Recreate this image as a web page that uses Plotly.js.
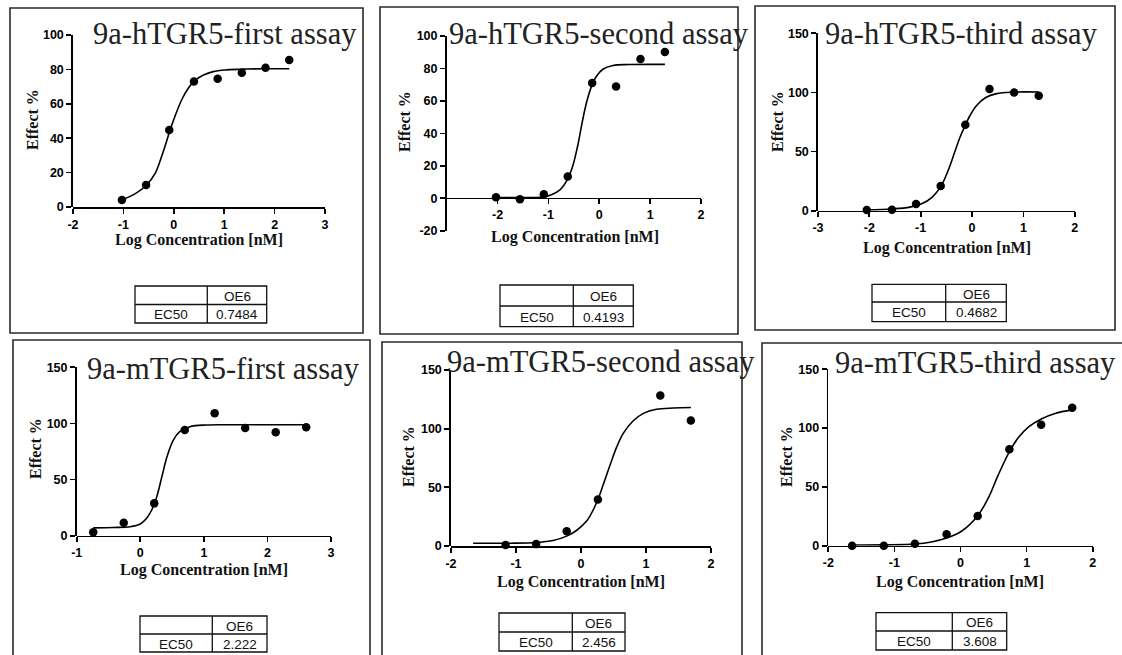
<!DOCTYPE html>
<html><head><meta charset="utf-8">
<script src="https://cdn.plot.ly/plotly-3.0.1.min.js"></script>
<style>html,body{margin:0;padding:0;background:#fff}#chart{width:1122px;height:655px}</style>
</head><body><div id="chart"></div>
<script>
// ---------------- DATA ----------------
const panelTitles = ['9a-hTGR5-first assay','9a-hTGR5-second assay','9a-hTGR5-third assay',
                     '9a-mTGR5-first assay','9a-mTGR5-second assay','9a-mTGR5-third assay'];
const xAxisTitle = 'Log Concentration [nM]';
const yAxisTitle = 'Effect %';
const tableHeader = 'OE6';
const tableRowLabel = 'EC50';
const ec50Values = ['0.7484','0.4193','0.4682','2.222','2.456','3.608'];

const p1LogConc = [-1.03,-0.55,-0.09,0.40,0.87,1.35,1.82,2.29];
const p1Effect  = [4.1,12.8,44.8,72.9,74.6,78.1,81.0,85.5];
const p1CurveX  = [-1.03,-0.77,-0.54,-0.37,-0.24,-0.14,-0.075,0.02,0.16,0.29,0.42,0.59,0.78,1.05,1.45,1.84,2.29];
const p1CurveY  = [4.2,7.6,12.8,19.5,29.5,38.5,44.6,52.5,62.5,69.2,73.6,76.7,78.7,79.7,80.2,80.4,80.4];

const p2LogConc = [-2.03,-1.56,-1.09,-0.62,-0.14,0.33,0.81,1.29];
const p2Effect  = [0.6,-0.6,2.4,13.4,71.1,68.9,85.8,90.1];
const p2CurveX  = [-2.03,-1.56,-1.11,-0.94,-0.78,-0.62,-0.52,-0.42,-0.35,-0.29,-0.22,-0.14,-0.06,0.07,0.27,0.59,1.29];
const p2CurveY  = [0.4,0.4,0.8,2.2,5.0,12.0,20.0,33.0,44.5,53.8,62.5,70.0,75.0,79.5,81.8,82.4,82.5];

const p3LogConc = [-2.05,-1.56,-1.09,-0.61,-0.13,0.34,0.82,1.30];
const p3Effect  = [0.5,0.9,5.7,20.9,72.6,102.9,100.0,97.2];
const p3CurveX  = [-2.05,-1.56,-1.21,-0.98,-0.78,-0.61,-0.46,-0.33,-0.23,-0.13,-0.04,0.09,0.26,0.48,0.81,1.30];
const p3CurveY  = [0.8,1.5,3.0,5.8,11.3,20.3,34.5,50.5,62.5,72.3,80.5,89.0,95.5,99.0,100.3,100.4];

const p4LogConc = [-0.74,-0.26,0.22,0.70,1.17,1.65,2.13,2.61];
const p4Effect  = [3.0,11.6,28.8,94.1,109.0,95.9,92.1,96.5];
const p4CurveX  = [-0.74,-0.42,-0.16,0.0,0.10,0.18,0.26,0.34,0.42,0.52,0.62,0.78,1.04,1.41,2.62];
const p4CurveY  = [7.0,7.3,8.0,10.4,15.5,22.9,34.8,52.6,70.4,85.2,92.6,97.1,98.6,98.8,98.8];

const p5LogConc = [-1.16,-0.69,-0.22,0.26,1.22,1.69];
const p5Effect  = [0.8,1.6,12.6,39.6,128.3,107.0];
const p5CurveX  = [-1.66,-1.09,-0.68,-0.43,-0.22,-0.07,0.09,0.19,0.26,0.34,0.45,0.55,0.65,0.80,0.96,1.16,1.42,1.69];
const p5CurveY  = [2.4,2.4,3.0,4.7,8.4,13.2,21.5,31.0,39.6,52.0,69.5,84.5,96.0,106.5,113.0,116.5,117.6,118.0];

const p6LogConc = [-1.64,-1.16,-0.69,-0.21,0.26,0.74,1.22,1.69];
const p6Effect  = [0.0,0.0,1.7,9.7,25.3,82.0,102.9,117.3];
const p6CurveX  = [-1.64,-1.14,-0.69,-0.44,-0.21,0.02,0.26,0.42,0.57,0.74,0.87,1.03,1.23,1.43,1.69];
const p6CurveY  = [0.6,0.7,1.4,3.2,6.5,12.5,25.5,40.5,60.0,80.0,91.5,101.0,108.0,112.5,115.5];

const xTicks1 = [-2,-1,0,1,2,3];   const xTickText1 = ['-2','-1','0','1','2','3'];
const xTicks2 = [-2,-1,0,1,2];     const xTickText2 = ['-2','-1','0','1','2'];
const xTicks3 = [-3,-2,-1,0,1,2];  const xTickText3 = ['-3','-2','-1','0','1','2'];
const xTicks4 = [-1,0,1,2,3];      const xTickText4 = ['-1','0','1','2','3'];
const xTicks5 = [-2,-1,0,1,2];     const xTickText5 = ['-2','-1','0','1','2'];
const yTicksA = [0,20,40,60,80,100];
const yTicksB = [-20,0,20,40,60,80,100]; const yTickTextB = ['-20','0','20','40','60','80','100'];
const yTicksC = [0,50,100,150];

// ---------------- LAYOUT GEOMETRY (pixels) ----------------
const W = 1122, H = 655;
const PX = v => v / W, PY = v => 1 - v / H;
const panels = [
  {lx:p1LogConc, ly:p1Effect, cx:p1CurveX, cy:p1CurveY, box:[10,8,363,333], xd:[73,325], yd:[207,35], xr:[-2,3], yr:[0,100],
   xt:xTicks1, xtt:xTickText1, yt:yTicksA, ytt:yTicksA.map(String), x0:207, ttl:[93,43], xtl:[199,240], ytl:[33,120], tb:[135,207.3,266.7,286,304.5,323]},
  {lx:p2LogConc, ly:p2Effect, cx:p2CurveX, cy:p2CurveY, box:[380,7,738,334], xd:[446.7,701], yd:[230.7,36], xr:[-3,2], yr:[-20,100],
   xt:xTicks2, xtt:xTickText2, yt:yTicksB, ytt:yTickTextB, x0:197.7, ttl:[449,43], xtl:[575,237], ytl:[404,122], tb:[500,573.3,633.3,285,306,326.7]},
  {lx:p3LogConc, ly:p3Effect, cx:p3CurveX, cy:p3CurveY, box:[755,6,1115,330], xd:[818,1074.7], yd:[210.7,33.3], xr:[-3,2], yr:[0,150],
   xt:xTicks3, xtt:xTickText3, yt:yTicksC, ytt:yTicksC.map(String), x0:210.7, ttl:[825,43], xtl:[947,248], ytl:[777,122], tb:[872,945.7,1006.3,284.3,302,321.7]},
  {lx:p4LogConc, ly:p4Effect, cx:p4CurveX, cy:p4CurveY, box:[13,340,370,670], xd:[76.7,331], yd:[535.7,367.3], xr:[-1,3], yr:[0,150],
   xt:xTicks4, xtt:xTickText4, yt:yTicksC, ytt:yTicksC.map(String), x0:535.7, ttl:[87,378], xtl:[204,570], ytl:[35,449], tb:[140,212.3,267,616,634,652]},
  {lx:p5LogConc, ly:p5Effect, cx:p5CurveX, cy:p5CurveY, box:[382,342,742,670], xd:[451,711], yd:[546,370], xr:[-2,2], yr:[0,150],
   xt:xTicks5, xtt:xTickText5, yt:yTicksC, ytt:yTicksC.map(String), x0:546, ttl:[447,371], xtl:[581,582], ytl:[408,457], tb:[499,572.3,625,613,632,651]},
  {lx:p6LogConc, ly:p6Effect, cx:p6CurveX, cy:p6CurveY, box:[762,343,1125,670], xd:[828.3,1092.7], yd:[545.7,369.3], xr:[-2,2], yr:[0,150],
   xt:xTicks5, xtt:xTickText5, yt:yTicksC, ytt:yTicksC.map(String), x0:545.7, ttl:[835,372], xtl:[960,582], ytl:[786,457], tb:[876,952.3,1006.7,612.7,631,650]}
];

const traces = [], shapes = [], annotations = [];
const layout = {width:W, height:H, autosize:false, margin:{l:0,r:0,t:0,b:0,pad:0},
  paper_bgcolor:'#fff', plot_bgcolor:'rgba(0,0,0,0)', showlegend:false};
const tickFont = {family:'Liberation Sans, Arial, sans-serif', size:12.5, weight:'bold', color:'#000'};
const serif = 'Liberation Serif, Times New Roman, serif';
const TITLE_SIZE = 30.5;

panels.forEach((p, i) => {
  const n = i + 1, xs = n === 1 ? '' : String(n);
  const xa = 'x' + xs, ya = 'y' + xs;
  layout['xaxis' + xs] = {domain:[PX(p.xd[0]), PX(p.xd[1])], range:p.xr, anchor:'free', position:PY(p.x0),
    showline:true, linecolor:'#000', linewidth:1.7, ticks:'outside', ticklen:5, tickwidth:1.7, tickcolor:'#000',
    tickvals:p.xt, ticktext:p.xtt, tickfont:tickFont, showgrid:false, zeroline:false, fixedrange:true};
  layout['yaxis' + xs] = {domain:[PY(p.yd[0]), PY(p.yd[1])], range:p.yr, anchor:xa,
    showline:true, linecolor:'#000', linewidth:1.7, ticks:'outside', ticklen:5, tickwidth:1.7, tickcolor:'#000',
    tickvals:p.yt, ticktext:p.ytt, tickfont:tickFont, showgrid:false, zeroline:false, fixedrange:true};
  traces.push({x:p.cx, y:p.cy, xaxis:xa, yaxis:ya, type:'scatter', mode:'lines',
    line:{color:'#000', width:1.6, shape:'spline', smoothing:1}, cliponaxis:false, hoverinfo:'skip'});
  traces.push({x:p.lx, y:p.ly, xaxis:xa, yaxis:ya, type:'scatter', mode:'markers',
    marker:{color:'#000', size:8.5}, cliponaxis:false});

  // panel border
  shapes.push({type:'rect', xref:'paper', yref:'paper', x0:PX(p.box[0]), x1:PX(p.box[2]), y0:PY(p.box[3]), y1:PY(p.box[1]),
    line:{color:'#2a2a2a', width:1.6}, fillcolor:'rgba(0,0,0,0)'});
  // table
  const t = p.tb;
  shapes.push({type:'rect', xref:'paper', yref:'paper', x0:PX(t[0]), x1:PX(t[2]), y0:PY(t[5]), y1:PY(t[3]), line:{color:'#111', width:1.3}});
  shapes.push({type:'line', xref:'paper', yref:'paper', x0:PX(t[1]), x1:PX(t[1]), y0:PY(t[5]), y1:PY(t[3]), line:{color:'#111', width:1.3}});
  shapes.push({type:'line', xref:'paper', yref:'paper', x0:PX(t[0]), x1:PX(t[2]), y0:PY(t[4]), y1:PY(t[4]), line:{color:'#111', width:1.3}});
  const tf = {family:'Liberation Sans, Arial, sans-serif', size:13.5, color:'#111'};
  annotations.push({xref:'paper', yref:'paper', x:PX((t[1]+t[2])/2), y:PY((t[3]+t[4])/2 + 1), text:tableHeader, showarrow:false, font:tf, xanchor:'center', yanchor:'middle'});
  annotations.push({xref:'paper', yref:'paper', x:PX((t[0]+t[1])/2), y:PY((t[4]+t[5])/2 + 1), text:tableRowLabel, showarrow:false, font:tf, xanchor:'center', yanchor:'middle'});
  annotations.push({xref:'paper', yref:'paper', x:PX((t[1]+t[2])/2), y:PY((t[4]+t[5])/2 + 1), text:ec50Values[i], showarrow:false, font:tf, xanchor:'center', yanchor:'middle'});

  // big panel title
  annotations.push({xref:'paper', yref:'paper', x:PX(p.ttl[0] - 2), y:PY(p.ttl[1] - 0.3 * TITLE_SIZE), text:panelTitles[i], showarrow:false,
    font:{family:serif, size:TITLE_SIZE, color:'#222'}, xanchor:'left', yanchor:'middle'});
  // axis titles
  annotations.push({xref:'paper', yref:'paper', x:PX(p.xtl[0]), y:PY(p.xtl[1]), text:xAxisTitle, showarrow:false,
    font:{family:serif, size:16, weight:'bold', color:'#111'}, xanchor:'center', yanchor:'middle'});
  annotations.push({xref:'paper', yref:'paper', x:PX(p.ytl[0]), y:PY(p.ytl[1]), text:yAxisTitle, showarrow:false, textangle:-90,
    font:{family:serif, size:16, weight:'bold', color:'#111'}, xanchor:'center', yanchor:'middle'});
});
layout.shapes = shapes;
layout.annotations = annotations;

Plotly.newPlot('chart', traces, layout, {displayModeBar:false, staticPlot:true});
</script>
</body></html>
